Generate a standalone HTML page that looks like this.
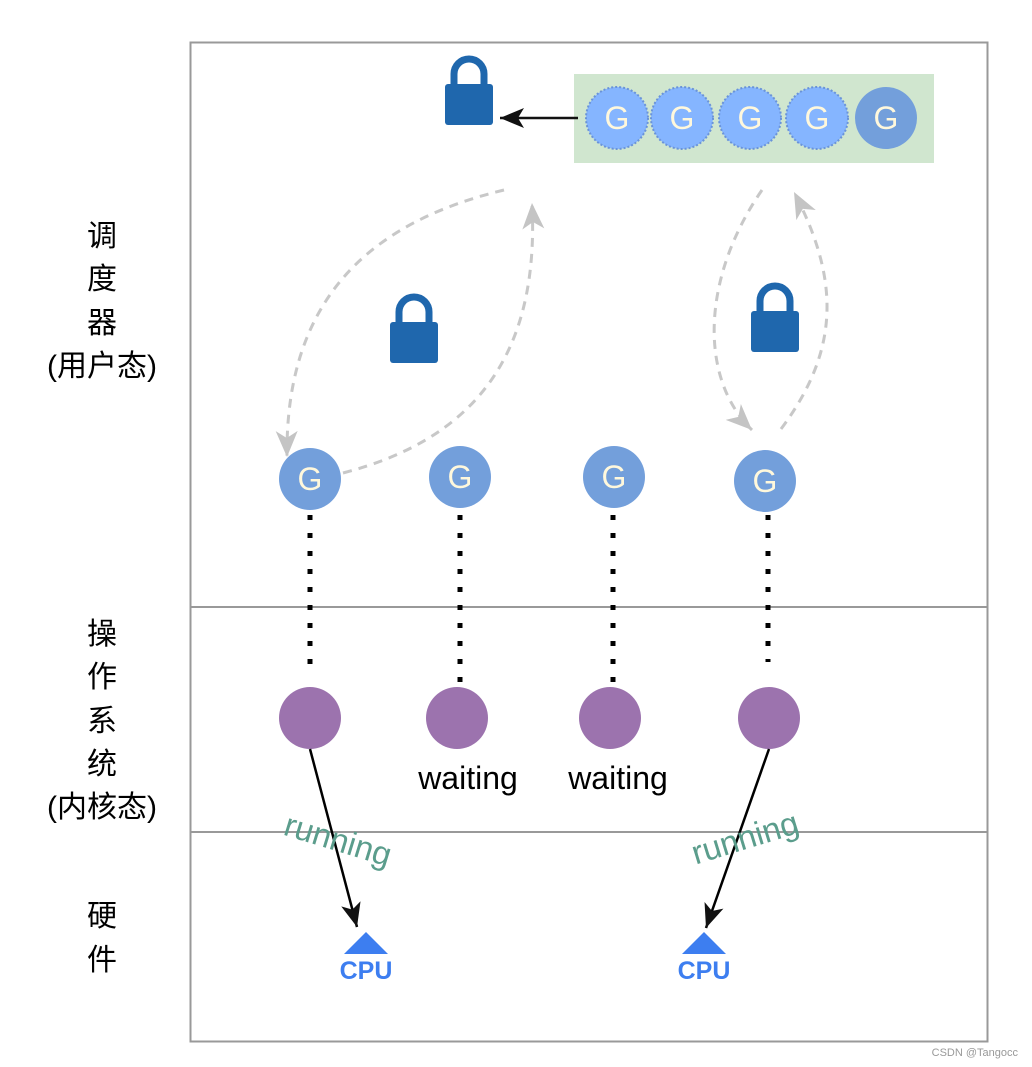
<!DOCTYPE html>
<html><head><meta charset="utf-8"><style>
html,body{margin:0;padding:0;background:#fff;}
svg{display:block;}
text{font-family:"Liberation Sans","Noto Sans CJK SC",sans-serif;}
</style></head><body>
<svg width="1032" height="1067" viewBox="0 0 1032 1067" xmlns="http://www.w3.org/2000/svg">
<defs>
<marker id="ag" markerWidth="28" markerHeight="28" refX="26" refY="14" orient="auto" markerUnits="userSpaceOnUse"><path d="M0,3 L26,14 L0,25 L7,14 Z" fill="#c4c4c4"/></marker>
<marker id="ak" markerWidth="26" markerHeight="26" refX="24" refY="13" orient="auto" markerUnits="userSpaceOnUse"><path d="M0,3 L24,13 L0,23 L6,13 Z" fill="#111"/></marker>
<g id="lock"><path d="M9,30 V19 A15,15 0 0 1 39,19 V30" fill="none" stroke="#1f67ad" stroke-width="7"/><rect x="0" y="29" width="48" height="41" rx="3" fill="#1f67ad"/></g>
</defs>
<rect x="190.5" y="42.5" width="797" height="999" fill="none" stroke="#999" stroke-width="2"/>
<line x1="190" y1="607" x2="988" y2="607" stroke="#999" stroke-width="2"/>
<line x1="190" y1="832" x2="988" y2="832" stroke="#999" stroke-width="2"/>

<g font-size="30" text-anchor="middle" fill="#000">
<text x="102" y="246">调</text><text x="102" y="289">度</text><text x="102" y="333">器</text><text x="102" y="376">(用户态)</text>
<text x="102" y="644">操</text><text x="102" y="687">作</text><text x="102" y="731">系</text><text x="102" y="774">统</text><text x="102" y="817">(内核态)</text>
<text x="102" y="926">硬</text><text x="102" y="970">件</text>
</g>

<rect x="574" y="74" width="360" height="89" fill="#d0e6cf"/>
<g font-size="32" fill="#fff8dc" text-anchor="middle">
<circle cx="617" cy="118" r="31" fill="#85b5ff" stroke="#6a93d8" stroke-width="2" stroke-dasharray="2,2"/>
<circle cx="682" cy="118" r="31" fill="#85b5ff" stroke="#6a93d8" stroke-width="2" stroke-dasharray="2,2"/>
<circle cx="750" cy="118" r="31" fill="#85b5ff" stroke="#6a93d8" stroke-width="2" stroke-dasharray="2,2"/>
<circle cx="817" cy="118" r="31" fill="#85b5ff" stroke="#6a93d8" stroke-width="2" stroke-dasharray="2,2"/>
<circle cx="886" cy="118" r="31" fill="#739fdb"/>
<text x="617" y="129">G</text><text x="682" y="129">G</text><text x="750" y="129">G</text><text x="817" y="129">G</text><text x="886" y="129">G</text>
</g>
<line x1="578" y1="118" x2="500" y2="118" stroke="#111" stroke-width="2.5" marker-end="url(#ak)"/>
<use href="#lock" x="445" y="55"/>
<use href="#lock" x="390" y="293"/>
<use href="#lock" x="751" y="282"/>

<g fill="none" stroke="#c8c8c8" stroke-width="3" stroke-dasharray="9,7">
<path d="M504,190 C380,220 285,290 287,457" marker-end="url(#ag)"/>
<path d="M343,473 C470,440 540,360 532,203" marker-end="url(#ag)"/>
<path d="M762,190 C700,280 700,380 752,430" marker-end="url(#ag)"/>
<path d="M781,429 C840,350 840,280 794,192" marker-end="url(#ag)"/>
</g>

<g font-size="32" fill="#fff8dc" text-anchor="middle">
<circle cx="310" cy="479" r="31" fill="#739fdb"/><text x="310" y="490">G</text>
<circle cx="460" cy="477" r="31" fill="#739fdb"/><text x="460" y="488">G</text>
<circle cx="614" cy="477" r="31" fill="#739fdb"/><text x="614" y="488">G</text>
<circle cx="765" cy="481" r="31" fill="#739fdb"/><text x="765" y="492">G</text>
</g>

<g stroke="#000" stroke-width="5" stroke-dasharray="5,13">
<line x1="310" y1="515" x2="310" y2="667"/>
<line x1="460" y1="515" x2="460" y2="685"/>
<line x1="613" y1="515" x2="613" y2="685"/>
<line x1="768" y1="515" x2="768" y2="662"/>
</g>

<g fill="#9c73ae">
<circle cx="310" cy="718" r="31"/><circle cx="457" cy="718" r="31"/><circle cx="610" cy="718" r="31"/><circle cx="769" cy="718" r="31"/>
</g>
<text x="468" y="789" font-size="32" text-anchor="middle">waiting</text>
<text x="618" y="789" font-size="32" text-anchor="middle">waiting</text>

<line x1="310" y1="749" x2="357" y2="927" stroke="#000" stroke-width="2.5" marker-end="url(#ak)"/>
<line x1="769" y1="749" x2="706" y2="928" stroke="#000" stroke-width="2.5" marker-end="url(#ak)"/>
<text x="338" y="851" font-size="33" fill="#5b9d8c" text-anchor="middle" transform="rotate(17 338 840)">running</text>
<text x="745" y="849" font-size="33" fill="#5b9d8c" text-anchor="middle" transform="rotate(-17 745 838)">running</text>

<g fill="#3d7ef0">
<polygon points="344,954 366,932 388,954"/>
<polygon points="682,954 704,932 726,954"/>
</g>
<g font-size="25" font-weight="bold" fill="#3d7ef0" text-anchor="middle" style="font-family:'Liberation Mono',monospace">
<text x="366" y="979">CPU</text><text x="704" y="979">CPU</text>
</g>
<text x="1018" y="1056" font-size="11" fill="#999" text-anchor="end">CSDN @Tangocc</text>
</svg>
</body></html>
